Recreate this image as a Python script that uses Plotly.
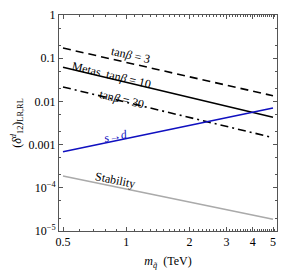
import numpy as np
import plotly.graph_objects as go

# Data
m_sq = [0.5, 5.0]                  # squark mass, TeV
tanb3 = [0.172, 0.0135]            # tan beta = 3 (dashed)
metas_tanb10 = [0.0616, 0.00428]   # Metas tan beta = 10 (solid)
tanb30 = [0.0216, 0.00145]         # tan beta = 30 (dash-dot)
s_to_d = [0.000685, 0.00703]       # s -> d (blue)
stability = [1.87e-4, 1.87e-5]     # Stability (gray)

x_ticks = [0.5, 1, 2, 3, 4, 5]
x_ticklabels = ["0.5", "1", "2", "3", "4", "5"]
y_ticks = [1, 0.1, 0.01, 0.001, 1e-4, 1e-5]
y_ticklabels = ["1", "0.1", "0.01", "0.001", "10<sup>\u22124</sup>", "10<sup>\u22125</sup>"]

FONT = "Liberation Serif"

fig = go.Figure()
fig.add_trace(go.Scatter(x=m_sq, y=tanb3, mode="lines",
                         line=dict(color="black", width=1.6, dash="8px,5px")))
fig.add_trace(go.Scatter(x=m_sq, y=metas_tanb10, mode="lines",
                         line=dict(color="black", width=1.6)))
fig.add_trace(go.Scatter(x=m_sq, y=tanb30, mode="lines",
                         line=dict(color="black", width=1.6, dash="8px,4px,2px,4px")))
fig.add_trace(go.Scatter(x=m_sq, y=s_to_d, mode="lines",
                         line=dict(color="#1010c0", width=1.6)))
fig.add_trace(go.Scatter(x=m_sq, y=stability, mode="lines",
                         line=dict(color="#aaaaaa", width=1.6)))

def ann(px, py, text, angle, color="black"):
    lx = np.log10(0.5) + (px - 63) / 210.0
    ly = (15 - py) / 43.2
    fig.add_annotation(x=lx, y=ly, xref="x", yref="y", text=text, showarrow=False,
                       textangle=angle, font=dict(family=FONT, size=12, color=color))

ann(130, 55, "tan<i>β</i> = 3", 12.8)
ann(111, 75, "Metas  tan<i>β</i> = 10", 13.4)
ann(121, 99, "tan<i>β</i> = 30", 13.6)
ann(116, 136, "<i>s</i>→<i>d</i>", -11.8, color="#1010c0")
ann(115, 180, "Stability", 11.6)

axis_common = dict(showline=True, linecolor="#555555", linewidth=1, mirror="allticks",
                   ticks="inside", ticklen=4, tickcolor="#555555", showgrid=False,
                   zeroline=False, tickfont=dict(family=FONT, size=12, color="black"))

fig.update_xaxes(type="log", range=[np.log10(0.5) - 4 / 210, np.log10(5) + 4 / 210],
                 tickvals=x_ticks, ticktext=x_ticklabels,
                 minor=dict(ticks="inside", ticklen=2, tickcolor="#555555", showgrid=False),
                 title=dict(text="<i>m</i><sub><i>q̃</i></sub>  (TeV)",
                            font=dict(family=FONT, size=12, color="black"), standoff=8),
                 **axis_common)
fig.update_yaxes(type="log", range=[-5, 0],
                 tickvals=y_ticks, ticktext=y_ticklabels,
                 minor=dict(ticks="inside", ticklen=2, tickcolor="#555555", showgrid=False),
                 title=dict(text="(<i>δ</i><sup><i>d</i></sup><sub>12</sub>)<sub>LR,RL</sub>",
                            font=dict(family=FONT, size=12, color="black"), standoff=4),
                 **axis_common)

fig.update_layout(width=281, height=274, margin=dict(l=59, r=4, t=15, b=43),
                  plot_bgcolor="white", paper_bgcolor="white", showlegend=False,
                  font=dict(family=FONT))

fig.write_html("out.html", config={"displayModeBar": False},
               post_script="document.body.style.margin='0px';document.body.style.overflow='hidden';")
